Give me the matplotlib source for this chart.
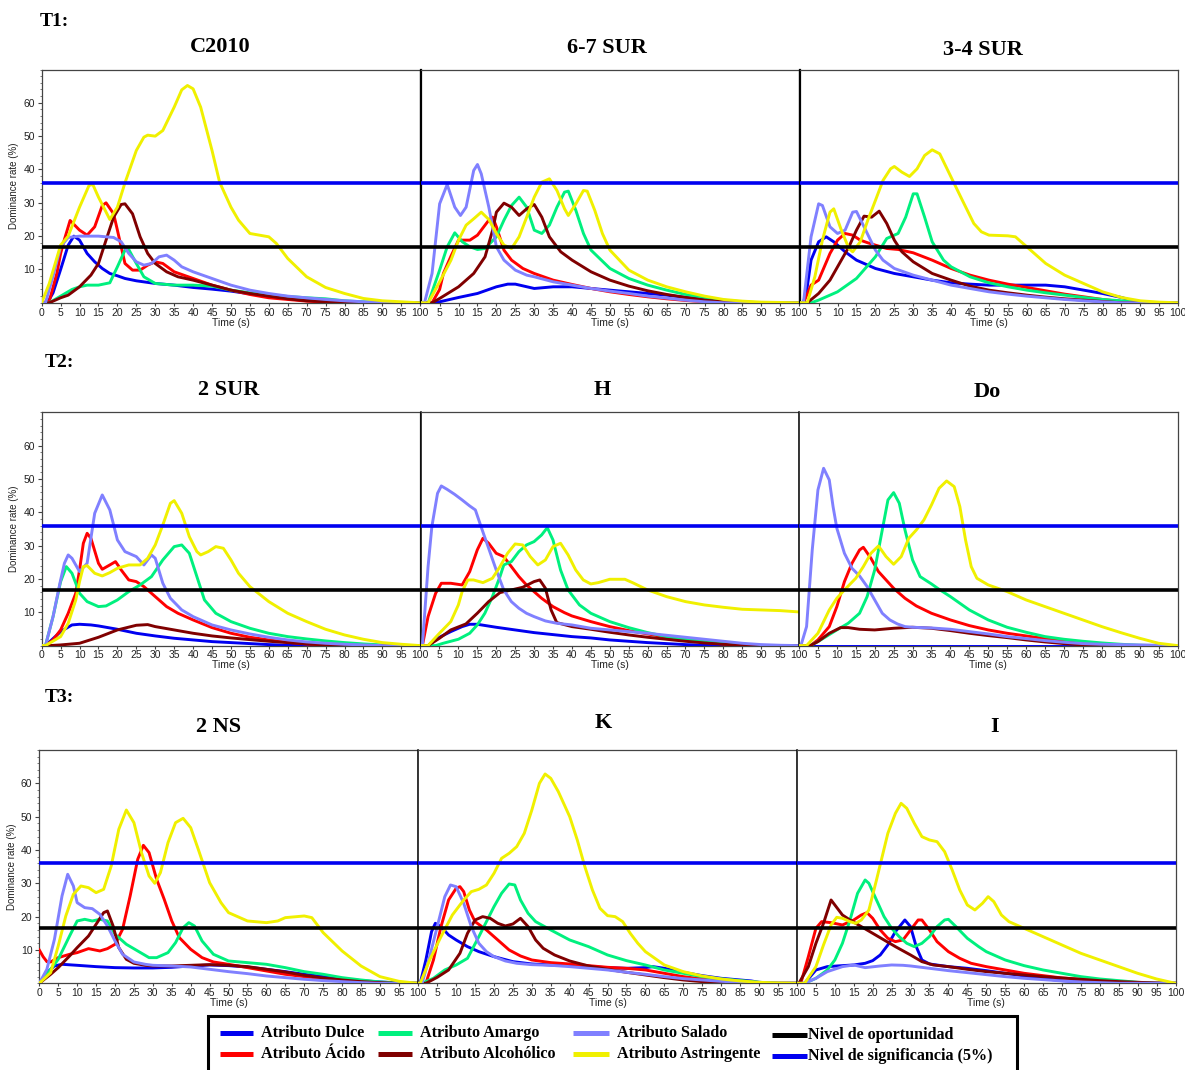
import matplotlib
matplotlib.use("Agg")
import matplotlib.pyplot as plt
from matplotlib.lines import Line2D
from matplotlib.patches import Rectangle
from matplotlib.ticker import MultipleLocator

# ---- data (time s, dominance rate %) ----
ATTRS = ["dulce", "acido", "amargo", "alcoholico", "salado", "astringente"]

C2010 = {
    "dulce": [(0, 0), (1.5, 0), (3, 3), (5, 10), (7, 17.3), (8.5, 20), (10, 18.8), (12, 14.8), (14, 12.3), (16, 10.3), (18, 8.8), (20, 8.1), (22, 7.3), (25, 6.6), (30, 5.8), (35, 5.3), (40, 4.6), (45, 4.1), (50, 3.5), (55, 2.7), (60, 2), (65, 1.4), (70, 0.9), (75, 0.5), (80, 0.2), (85, 0), (100, 0)],
    "acido": [(0, 0), (2, 0.5), (4, 8.8), (5, 14.8), (6, 19), (7.5, 24.7), (10, 21.8), (12, 20.3), (14, 22.8), (16, 29.2), (17, 30), (19, 26.7), (20, 21.8), (22, 11.8), (24, 9.8), (26, 9.8), (28, 11.3), (30, 12.3), (32, 11.8), (35, 9.3), (40, 7.3), (45, 5.3), (50, 3.8), (55, 2.5), (60, 1.5), (65, 1), (70, 0.5), (75, 0.2), (80, 0), (100, 0)],
    "amargo": [(0, 0), (2, 0), (5, 2), (8, 4), (10, 4.8), (12, 5.3), (15, 5.3), (18, 6), (20, 10.8), (22, 15.8), (23, 16), (25, 11.8), (27, 7.8), (30, 5.8), (35, 5.3), (40, 5.3), (45, 5), (50, 3.8), (55, 3), (60, 2.4), (65, 1.9), (70, 1.5), (75, 1.2), (80, 0.6), (85, 0.3), (90, 0.1), (100, 0)],
    "alcoholico": [(0, 0), (2, 0), (5, 1.5), (7, 2.3), (10, 4.8), (13, 8.3), (15, 11.8), (17, 18.8), (19, 25.7), (21, 29.5), (22, 29.7), (24, 26.7), (26, 19.8), (28, 14.8), (30, 11.8), (33, 9.3), (36, 7.8), (40, 6.8), (45, 5.3), (50, 3.8), (55, 2.8), (60, 2), (65, 1.2), (70, 0.6), (75, 0.3), (80, 0), (100, 0)],
    "salado": [(0, 0), (1, 0), (3, 8), (5, 16.8), (7, 19.6), (10, 20), (15, 20), (19, 19.6), (21, 18.3), (23, 14.8), (25, 12.3), (27, 11.3), (29, 11.8), (31, 13.8), (33, 14.3), (35, 12.8), (37, 10.8), (40, 9.3), (45, 7.3), (50, 5.3), (55, 3.8), (60, 2.8), (65, 2), (70, 1.5), (75, 1), (80, 0.6), (85, 0.3), (90, 0.1), (95, 0), (100, 0)],
    "astringente": [(0, 0), (2, 5.8), (5, 17.3), (7, 20), (10, 28.7), (12.5, 35.2), (13.5, 35.5), (15, 31.7), (18, 25), (20, 28.7), (22, 36), (25, 45.7), (27, 49.7), (28, 50.3), (30, 50), (32, 51.7), (35, 58.7), (37, 63.9), (38.5, 65.2), (40, 64.2), (42, 58.7), (45, 45.7), (47, 36.2), (50, 28.7), (52, 24.8), (55, 20.8), (60, 19.8), (62, 17.8), (65, 13.3), (70, 7.8), (75, 4.6), (80, 2.8), (85, 1.3), (90, 0.6), (95, 0.3), (100, 0)],
}

SUR_6_7 = {
    "dulce": [(0, 0), (3, 0), (5, 0.3), (10, 1.6), (15, 2.8), (20, 4.8), (23, 5.6), (25, 5.6), (30, 4.3), (35, 4.8), (40, 4.8), (45, 4.3), (50, 3.8), (55, 3.3), (60, 2.8), (65, 2.3), (70, 1.6), (75, 1), (80, 0.4), (85, 0), (100, 0)],
    "acido": [(0, 0), (3, 0), (5, 4), (6, 8.8), (8, 14), (10, 18.8), (13, 18.8), (15, 20.3), (18, 24.8), (19, 25.7), (20, 22.8), (22, 15.8), (24, 12.8), (27, 10.3), (30, 8.8), (35, 6.8), (40, 5.5), (45, 4.3), (50, 3.3), (55, 2.5), (60, 1.8), (65, 1.2), (70, 0.7), (75, 0.3), (80, 0), (100, 0)],
    "amargo": [(0, 0), (2, 0), (5, 9.8), (7, 16.8), (9, 21), (11, 18.3), (13, 16.8), (15, 16), (17, 16.3), (20, 19.8), (22, 24.8), (24, 29.2), (26, 31.7), (28, 28.7), (30, 21.8), (32, 20.8), (34, 23.3), (36, 28.7), (38, 33.2), (39, 33.5), (41, 27.7), (43, 20.8), (45, 15.8), (50, 10.3), (55, 7.3), (60, 5.3), (65, 3.8), (70, 2.5), (75, 1.6), (80, 0.8), (85, 0.3), (90, 0), (100, 0)],
    "alcoholico": [(0, 0), (3, 0), (5, 1.3), (10, 4.8), (14, 8.8), (17, 13.8), (19, 21.8), (20, 27.2), (22, 29.9), (24, 28.7), (26, 26.2), (28, 28.2), (30, 29.5), (32, 25.7), (34, 19.8), (37, 15.3), (40, 12.8), (45, 9.3), (50, 6.8), (55, 5), (60, 3.6), (65, 2.5), (70, 1.6), (75, 0.8), (80, 0.3), (85, 0), (100, 0)],
    "salado": [(0, 0), (1, 0), (3, 8.8), (5, 29.7), (7, 35.5), (9, 28.7), (10.5, 26.2), (12, 28.7), (14, 39.7), (15, 41.5), (16, 38.7), (18, 28.7), (20, 16.8), (22, 12.8), (25, 9.8), (28, 8.3), (30, 7.8), (35, 6.3), (40, 5.3), (45, 4.3), (50, 3.5), (55, 2.8), (60, 2), (65, 1.4), (70, 0.8), (75, 0.3), (80, 0), (100, 0)],
    "astringente": [(0, 0), (2, 0), (5, 6.3), (8, 12.8), (10, 18.8), (12, 23.3), (14, 25.2), (16, 27.2), (18, 25), (20, 20.8), (22, 17.3), (24, 16.3), (26, 19.8), (28, 25.7), (30, 31.7), (32, 36.2), (34, 37.2), (36, 33.7), (38, 28.2), (39, 26.2), (41, 29.7), (43, 33.7), (44, 33.5), (46, 27.7), (48, 20.8), (50, 15.8), (55, 9.8), (60, 6.8), (65, 4.8), (70, 3.3), (75, 2), (80, 1), (85, 0.5), (90, 0.2), (95, 0.1), (100, 0)],
}

SUR_3_4 = {
    "dulce": [(0, 0), (1, 0), (2, 4.8), (3, 12.8), (5, 18.3), (7, 19.8), (9, 18.3), (12, 15.3), (15, 12.8), (18, 11.3), (20, 10.3), (25, 8.8), (30, 7.8), (35, 6.8), (40, 6), (45, 5.6), (50, 5.3), (65, 5.3), (70, 4.8), (75, 3.8), (80, 2.8), (85, 1.6), (88, 0.6), (90, 0), (100, 0)],
    "acido": [(0, 0), (1, 0), (3, 5.3), (5, 6.8), (8, 14.8), (10, 18.8), (12, 20.8), (14, 20.3), (16, 18.8), (18, 18), (20, 17.3), (23, 16.3), (26, 16), (30, 15), (35, 12.8), (40, 10.3), (45, 8.3), (50, 6.8), (55, 5.6), (60, 4.6), (65, 3.6), (70, 2.6), (75, 1.8), (80, 1), (85, 0.4), (90, 0), (100, 0)],
    "amargo": [(0, 0), (3, 0), (5, 0.8), (10, 3.3), (15, 7.3), (20, 13.8), (23, 19.3), (26, 20.8), (28, 25.7), (30, 32.7), (31, 32.7), (33, 25.7), (35, 18.3), (38, 12.8), (40, 10.8), (45, 7.8), (50, 6), (55, 4.8), (60, 3.8), (65, 3), (70, 2.3), (75, 1.6), (80, 1), (85, 0.6), (90, 0.2), (95, 0), (100, 0)],
    "alcoholico": [(0, 0), (2, 0), (5, 2.8), (8, 6.8), (10, 10.8), (13, 16.8), (15, 21.8), (17, 26), (19, 25.7), (21, 27.5), (23, 23.8), (25, 18.8), (27, 15.3), (30, 12.3), (35, 8.8), (40, 6.8), (45, 5), (50, 3.8), (55, 3), (60, 2.3), (65, 1.7), (70, 1.2), (75, 0.8), (80, 0.4), (85, 0), (100, 0)],
    "salado": [(0, 0), (1, 0), (3, 19.8), (5, 29.7), (6, 29.2), (8, 22.8), (10, 20.8), (12, 21.8), (14, 27.2), (15, 27.4), (17, 22.8), (20, 15.8), (22, 12.8), (25, 10.3), (30, 8.3), (35, 6.8), (40, 5.3), (45, 4.3), (50, 3.3), (55, 2.6), (60, 2), (65, 1.5), (70, 1), (75, 0.6), (80, 0.3), (85, 0), (100, 0)],
    "astringente": [(0, 0), (2, 0), (4, 7.8), (6, 18.8), (8, 27.2), (9, 28.2), (11, 21.8), (13, 16.3), (14, 15.3), (16, 18.3), (18, 24.8), (20, 30.7), (22, 36.7), (24, 40.2), (25, 40.9), (27, 39.2), (29, 37.9), (31, 40.2), (33, 44.2), (35, 45.9), (37, 44.7), (40, 37.7), (43, 30.7), (46, 23.8), (48, 21.3), (50, 20.3), (55, 20.1), (57, 19.8), (60, 16.8), (65, 11.8), (70, 8.3), (75, 5.8), (80, 3.3), (85, 1.6), (90, 0.6), (95, 0.2), (100, 0)],
}

SUR_2 = {
    "dulce": [(0, 0), (1, 0), (5, 4.2), (8, 6.2), (10, 6.4), (13, 6.2), (15, 5.9), (20, 4.9), (25, 3.7), (30, 2.9), (35, 2.2), (40, 1.7), (45, 1.2), (50, 0.9), (55, 0.6), (60, 0.3), (65, 0.1), (70, 0), (100, 0)],
    "acido": [(0, 0), (1, 0), (3, 1.7), (5, 4.7), (7, 9.7), (9, 15.7), (10, 22.7), (11, 30.7), (12, 33.7), (13, 32.2), (15, 24.7), (16, 22.9), (18, 24.2), (19.5, 25.2), (21, 22.7), (23, 19.7), (25, 19.2), (27, 17.7), (30, 14.7), (33, 11.7), (36, 9.7), (40, 7.7), (45, 5.4), (50, 3.7), (55, 2.5), (60, 1.7), (65, 1), (70, 0.5), (75, 0.2), (80, 0), (100, 0)],
    "amargo": [(0, 0), (1, 0), (3, 8.7), (5, 19.2), (6.5, 23.7), (8, 21.7), (10, 15.7), (12, 13.2), (15, 11.7), (17, 11.9), (20, 13.7), (23, 16.2), (26, 18.2), (29, 20.7), (32, 25.7), (35, 29.7), (37, 30.2), (39, 27.7), (41, 20.7), (43, 13.7), (46, 9.7), (50, 7.2), (55, 5.2), (60, 3.7), (65, 2.7), (70, 2), (75, 1.4), (80, 0.9), (85, 0.5), (90, 0.2), (95, 0), (100, 0)],
    "alcoholico": [(0, 0), (2, 0), (5, 0.2), (10, 0.7), (15, 2.5), (20, 4.7), (25, 6.1), (28, 6.3), (30, 5.7), (35, 4.7), (40, 3.7), (45, 2.9), (50, 2.3), (55, 1.8), (60, 1.3), (65, 0.9), (70, 0.5), (75, 0.2), (80, 0), (100, 0)],
    "salado": [(0, 0), (1, 0), (3, 8.7), (5, 19.7), (6, 24.7), (7, 27.2), (8, 26.2), (10, 22.2), (12, 24.7), (14, 39.7), (16, 45.2), (18, 40.7), (20, 31.7), (22, 28.2), (25, 26.7), (27, 24.2), (29, 27.2), (30, 26.2), (32, 18.7), (34, 14.2), (37, 10.7), (40, 8.7), (45, 6.2), (50, 4.7), (55, 3.5), (60, 2.5), (65, 1.7), (70, 1.1), (75, 0.7), (80, 0.4), (85, 0.2), (90, 0), (100, 0)],
    "astringente": [(0, 0), (1, 0), (5, 2.7), (7, 6.7), (9, 13.7), (10, 19.2), (11, 23.7), (12, 24), (14, 21.7), (16, 20.9), (18, 21.9), (20, 23.2), (23, 24.2), (26, 24.2), (28, 26.2), (30, 30.2), (32, 36.2), (34, 42.7), (35, 43.5), (37, 39.7), (39, 32.7), (41, 28.2), (42, 27.2), (44, 28.2), (46, 29.7), (48, 29.2), (50, 25.7), (52, 21.7), (55, 17.7), (60, 13.2), (65, 9.7), (70, 7.2), (75, 4.9), (80, 3.2), (85, 1.9), (90, 0.9), (95, 0.4), (100, 0)],
}

H = {
    "dulce": [(0, 0), (2, 0), (5, 2.5), (8, 4.2), (11, 5.7), (13, 6.4), (15, 6.4), (20, 5.5), (25, 4.7), (30, 3.9), (35, 3.3), (40, 2.7), (45, 2.3), (50, 1.7), (55, 1.3), (60, 0.9), (65, 0.6), (70, 0.3), (75, 0.1), (80, 0), (100, 0)],
    "acido": [(0, 0), (0.5, 0), (2, 8.7), (4, 15.7), (5.5, 18.7), (8, 18.7), (11, 18.2), (13, 22.2), (15, 28.7), (16.5, 32.2), (18, 30.7), (20, 27.7), (22, 26.7), (24, 23.7), (26, 20.7), (28, 18.2), (30, 16.2), (32, 14.2), (35, 11.7), (38, 9.9), (40, 8.9), (45, 7.2), (50, 5.7), (55, 4.5), (60, 3.5), (65, 2.5), (70, 1.7), (75, 1), (80, 0.5), (85, 0.2), (90, 0), (100, 0)],
    "amargo": [(0, 0), (4, 0), (6, 0.7), (10, 1.9), (13, 3.7), (15, 6.2), (17, 9.7), (19, 14.7), (21, 20.7), (22, 24.2), (24, 25.2), (26, 28.2), (28, 30.2), (30, 31.2), (32, 33.2), (33.5, 35.4), (35, 31.7), (37, 22.7), (39, 16.7), (42, 12.2), (45, 9.7), (50, 7.2), (55, 5.4), (60, 3.9), (65, 2.7), (70, 1.9), (75, 1.2), (80, 0.7), (85, 0.3), (90, 0), (100, 0)],
    "alcoholico": [(0, 0), (2, 0), (5, 2.2), (8, 4.7), (12, 6.5), (15, 9.7), (18, 13.2), (21, 15.9), (24, 16.7), (27, 17.5), (30, 19.2), (31.5, 19.7), (33, 17.2), (34.5, 10.7), (36, 6.9), (40, 5.7), (45, 4.9), (50, 4), (55, 3.2), (60, 2.5), (65, 1.9), (70, 1.3), (75, 0.8), (80, 0.4), (85, 0.1), (90, 0), (100, 0)],
    "salado": [(0, 0), (0.5, 0), (2, 23.7), (3, 35.7), (4.5, 45.7), (5.5, 47.9), (7, 46.9), (9, 45.4), (11, 43.7), (13, 41.9), (14.5, 40.7), (16, 35.7), (18, 29.2), (20, 22.7), (22, 16.7), (24, 13.2), (26, 11.2), (28, 9.7), (30, 8.7), (33, 7.4), (36, 6.7), (40, 6.2), (45, 5.2), (50, 4.7), (55, 4.2), (60, 3.7), (65, 3.1), (70, 2.5), (75, 1.9), (80, 1.3), (85, 0.7), (90, 0.3), (95, 0.1), (100, 0)],
    "astringente": [(0, 0), (2, 0), (5, 3.7), (8, 7.2), (10, 12.2), (11, 16.2), (12.5, 19.7), (14, 19.7), (16.5, 18.9), (19, 20.2), (21, 23.7), (23, 27.7), (25, 30.5), (27, 30.2), (29, 26.7), (31, 24.2), (33, 25.7), (35, 29.7), (37, 30.7), (39, 27.2), (41, 22.7), (43, 19.7), (45, 18.5), (47, 18.9), (50, 19.9), (54, 19.9), (56, 18.9), (60, 16.7), (65, 14.7), (70, 13.2), (75, 12.2), (80, 11.5), (85, 10.9), (90, 10.7), (95, 10.5), (100, 10.1)],
}

DO = {
    "dulce": [(0, 0), (100, 0)],
    "acido": [(0, 0), (3, 0), (5, 1.7), (8, 5.7), (10, 11.7), (12, 19.2), (14, 24.7), (16, 28.7), (17, 29.5), (19, 26.2), (21, 22.2), (23, 19.7), (25, 17.2), (28, 14.2), (31, 11.9), (35, 9.7), (40, 7.7), (45, 6), (50, 4.7), (55, 3.7), (60, 2.9), (65, 2.1), (70, 1.5), (75, 0.7), (80, 0.3), (85, 0), (100, 0)],
    "amargo": [(0, 0), (3, 0), (5, 1.2), (10, 4.7), (13, 6.7), (16, 9.7), (18, 14.7), (20, 22.7), (22, 34.7), (23.5, 43.7), (25, 45.9), (26.5, 42.7), (28, 34.7), (30, 25.7), (32, 20.7), (35, 18.5), (37, 16.9), (40, 14.7), (45, 10.7), (50, 7.7), (55, 5.5), (60, 4), (65, 2.7), (70, 1.9), (75, 1.3), (80, 0.8), (85, 0.4), (90, 0.1), (95, 0), (100, 0)],
    "alcoholico": [(0, 0), (3, 0), (5, 1.2), (8, 3.7), (11, 5.4), (13, 5.4), (16, 4.9), (20, 4.7), (25, 5.2), (30, 5.5), (35, 5.2), (40, 4.5), (45, 3.7), (50, 3), (55, 2.4), (60, 1.7), (65, 1.1), (70, 0.6), (75, 0.2), (80, 0), (100, 0)],
    "salado": [(0, 0), (0.5, 0), (2, 5.7), (3.5, 28.7), (5, 46.7), (6.5, 53.2), (8, 49.7), (9, 41.7), (10, 35.2), (12, 27.7), (14, 23.2), (16, 20.9), (18, 17.7), (20, 13.7), (22, 9.7), (24, 7.7), (26, 6.5), (28, 5.7), (30, 5.5), (35, 5.3), (40, 4.9), (45, 4.2), (50, 3.5), (55, 2.7), (60, 2.1), (65, 1.5), (70, 1), (75, 0.6), (80, 0.4), (85, 0.3), (90, 0.2), (95, 0.1), (100, 0)],
    "astringente": [(0, 0), (2, 0), (5, 3.7), (8, 10.7), (10, 14.2), (12, 16.7), (15, 20.2), (17, 23.7), (19, 27.7), (21, 29.9), (23, 26.7), (25, 24.4), (27, 26.7), (29, 32.2), (31, 34.7), (33, 37.7), (35, 42.2), (37, 47.2), (39, 49.4), (41, 47.7), (42.5, 41.7), (44, 31.7), (45.5, 23.7), (47, 20.2), (50, 18.2), (55, 16.2), (60, 13.7), (65, 11.7), (70, 9.7), (75, 7.7), (80, 5.7), (85, 3.9), (90, 2.2), (95, 0.7), (100, 0)],
}

NS_2 = {
    "dulce": [(0, 0), (2, 3.2), (4, 5.2), (6, 5.7), (10, 5.4), (15, 5), (20, 4.7), (25, 4.6), (30, 4.6), (35, 4.8), (40, 5.2), (45, 5.5), (50, 5.3), (55, 4.9), (60, 4.2), (65, 3.5), (70, 2.7), (75, 2), (80, 1.4), (85, 0.8), (90, 0.4), (95, 0.1), (100, 0)],
    "acido": [(0, 10), (1, 8), (2, 6.5), (3, 6.4), (5, 7.7), (8, 8.7), (10, 9.2), (13, 10.4), (16, 9.7), (18, 10.4), (20, 11.7), (22, 16.2), (24, 26.2), (26, 37.2), (27.5, 41.4), (29, 39.2), (31, 31.2), (33, 25.2), (35, 18.7), (37, 13.7), (40, 10.2), (43, 7.7), (46, 6.4), (50, 5.7), (55, 4.7), (60, 3.7), (65, 2.7), (70, 2), (75, 1.4), (80, 0.9), (85, 0.5), (90, 0.2), (95, 0), (100, 0)],
    "amargo": [(0, 0), (3, 4.2), (5, 7.2), (8, 14.2), (10, 18.7), (12, 19.2), (14, 18.7), (16, 19.2), (18, 18.7), (20, 14.7), (23, 11.7), (26, 9.7), (29, 7.7), (31, 7.7), (34, 9.2), (36, 12.2), (38, 16.7), (39.5, 18.2), (41, 17.2), (43, 12.7), (46, 8.7), (50, 6.7), (55, 6.2), (60, 5.7), (65, 4.7), (70, 3.5), (75, 2.7), (80, 1.7), (85, 1), (90, 0.4), (95, 0.1), (100, 0)],
    "alcoholico": [(0, 0), (3, 2.7), (5, 4.7), (8, 8.2), (10, 10.7), (13, 14.2), (15, 17.7), (17, 21.2), (18, 21.7), (19.5, 17.2), (21, 10.7), (23, 7.2), (25, 6), (28, 5.4), (30, 5.2), (35, 5.2), (40, 5.4), (45, 5.6), (50, 5.4), (55, 5), (60, 4.2), (65, 3.4), (70, 2.4), (75, 1.6), (80, 1), (85, 0.5), (90, 0.2), (95, 0), (100, 0)],
    "salado": [(0, 0), (2, 4.2), (4, 13.2), (6, 26.2), (7.5, 32.7), (9, 29.2), (10, 24.2), (12, 22.7), (14, 22.4), (16, 20.7), (18, 17.2), (20, 12.7), (22, 8.7), (25, 6.4), (28, 5.7), (30, 5.4), (35, 5.2), (40, 4.9), (45, 4.2), (50, 3.5), (55, 2.9), (60, 2.2), (65, 1.7), (70, 1.2), (75, 0.8), (80, 0.5), (85, 0.2), (90, 0), (100, 0)],
    "astringente": [(0, 0), (3, 3.2), (5, 11.2), (7, 20.2), (9, 26.7), (11, 29.2), (13, 28.7), (15, 27.2), (17, 28.2), (19, 35.2), (21, 46.2), (23, 52), (25, 48.2), (27, 39.2), (29, 32.2), (30.5, 30), (32, 33.2), (34, 42.2), (36, 48.2), (38, 49.5), (40, 46.7), (42, 40.2), (45, 30.2), (48, 24.2), (50, 21.2), (55, 18.7), (60, 18.2), (63, 18.7), (65, 19.7), (70, 20.2), (72, 19.7), (75, 15.2), (80, 9.7), (85, 5.2), (90, 2), (95, 0.6), (100, 0)],
}

K = {
    "dulce": [(0, 0), (0.5, 0), (2, 7), (3.5, 15.5), (4.5, 18), (6, 17), (8, 14.5), (10, 13), (13, 11), (16, 9.5), (20, 8), (25, 6.5), (30, 5.8), (35, 5.5), (40, 5.3), (45, 5), (50, 4.7), (55, 4.5), (60, 4.7), (62, 5), (65, 4.5), (70, 3.3), (75, 2.3), (80, 1.5), (85, 1), (88, 0.7), (90, 0.3), (95, 0), (100, 0)],
    "acido": [(0, 0), (2, 0), (4, 7), (6, 17), (8, 25), (10, 28.5), (11, 29), (12, 27.5), (13.5, 22), (15, 18.5), (18, 16), (21, 13), (24, 10), (27, 8.2), (30, 7), (35, 6.2), (40, 5.8), (45, 5.3), (50, 4.8), (55, 4.5), (60, 4), (65, 3), (70, 2), (75, 1.3), (80, 0.8), (85, 0.4), (90, 0.1), (95, 0), (100, 0)],
    "amargo": [(0, 0), (1, 0), (4, 1.5), (7, 4), (10, 5.5), (13, 7.5), (16, 14), (18, 18.5), (20, 23), (22, 27), (24, 29.8), (25.5, 29.5), (27, 25), (29, 21), (31, 18.5), (35, 16), (40, 13), (45, 11), (50, 8.5), (55, 6.8), (60, 5.5), (65, 4), (70, 3), (75, 2), (80, 1.3), (85, 0.8), (90, 0.3), (95, 0), (100, 0)],
    "alcoholico": [(0, 0), (2, 0), (5, 1.8), (8, 4), (11, 9), (13, 15), (15, 19), (17, 20), (19, 19.5), (21, 18), (23, 17.2), (25, 17.8), (27, 19.5), (29, 17), (31, 13), (33, 10.5), (36, 8.5), (40, 6.7), (45, 5.2), (50, 4.2), (55, 3.3), (60, 2.5), (65, 1.7), (70, 1), (75, 0.5), (80, 0.2), (85, 0), (100, 0)],
    "salado": [(0, 0), (1, 0), (3, 8), (5, 17), (7, 26), (8.5, 29.5), (10, 29), (12, 24), (14, 17), (16, 12), (18, 9.5), (20, 8), (23, 6.7), (26, 6), (30, 5.6), (35, 5.4), (40, 5), (45, 4.5), (50, 4), (55, 3.3), (60, 2.7), (65, 2), (70, 1.4), (75, 1), (80, 0.6), (85, 0.3), (90, 0.1), (95, 0), (100, 0)],
    "astringente": [(0, 0), (0.5, 0), (3, 7), (6, 14), (9, 20.5), (12, 25), (14, 27.5), (16, 28.2), (18, 29.5), (20, 33), (22, 37.5), (24, 39), (26, 41), (28, 45), (30, 52), (32, 60), (33.5, 62.8), (35, 61.5), (37, 57.5), (40, 50), (42, 43), (44, 35), (46, 28), (48, 22.5), (50, 20.3), (52, 20), (54, 18.5), (56, 15), (58, 12), (60, 9.5), (65, 5.5), (70, 3.5), (75, 2.2), (80, 1.3), (85, 0.7), (90, 0.3), (95, 0.1), (100, 0)],
}

I = {
    "dulce": [(0, 0), (2, 0), (5, 4), (8, 5), (12, 5.3), (15, 5.5), (18, 6), (20, 6.8), (22, 8.5), (24, 11.5), (26, 15.5), (28.5, 19), (30, 17), (31.5, 11), (33, 7), (35, 5.8), (40, 5), (45, 4.5), (50, 3.8), (55, 3), (60, 2.2), (65, 1.4), (70, 0.8), (75, 0.4), (80, 0.1), (85, 0), (100, 0)],
    "acido": [(0, 0), (1, 0), (3, 8), (5, 16.5), (6.5, 18.5), (9, 18.2), (12, 17.5), (15, 19), (17, 20.5), (18.5, 21.2), (20, 19.5), (22, 16), (24, 13.5), (26, 12.5), (28, 13), (30, 16), (32, 19), (33, 19), (35, 16), (37, 12.5), (40, 9.5), (43, 7.5), (46, 6), (50, 5), (55, 4), (60, 3), (65, 2.3), (70, 1.6), (75, 1.2), (80, 0.8), (85, 0.5), (90, 0.2), (95, 0), (100, 0)],
    "amargo": [(0, 0), (2, 0), (5, 1.5), (8, 4), (10, 7), (12, 12), (14, 19), (16, 27), (18, 31), (19, 30), (21, 25), (23, 20), (25, 16.5), (27, 14), (29, 12), (31, 11), (33, 12), (35, 14), (37, 17), (39, 19), (40, 19.2), (42, 17), (45, 13.5), (48, 11), (50, 9.5), (55, 7), (60, 5.3), (65, 4), (70, 3), (75, 2), (80, 1.3), (85, 0.8), (90, 0.3), (95, 0), (100, 0)],
    "alcoholico": [(0, 0), (0.5, 0), (3, 5), (5, 12), (7, 18), (9, 25), (10, 23.5), (12, 20.5), (14, 19), (17, 17), (20, 15), (23, 13), (26, 11), (30, 8.5), (33, 6.5), (36, 5.5), (40, 5), (45, 4.2), (50, 3.5), (55, 3), (60, 2.5), (65, 2), (70, 1.6), (75, 1.2), (80, 0.8), (85, 0.5), (90, 0.3), (95, 0.1), (100, 0)],
    "salado": [(0, 0), (2, 0), (5, 1.5), (8, 3.5), (12, 5), (15, 5.5), (18, 4.7), (22, 5.2), (25, 5.5), (28, 5.4), (30, 5.2), (35, 4.5), (40, 3.8), (45, 3.2), (50, 2.6), (55, 2), (60, 1.5), (65, 1.1), (70, 0.7), (75, 0.4), (80, 0.2), (85, 0), (100, 0)],
    "astringente": [(0, 0), (2, 0), (5, 5), (7, 11.5), (9, 17.5), (10.5, 19.8), (12, 19.5), (14, 18.5), (15.5, 18), (17, 19), (19, 22), (21, 31), (22.5, 38), (24, 45), (26, 51), (27.5, 54), (29, 52.5), (31, 48), (33, 44), (35, 43), (37, 42.5), (39, 39.5), (41, 34), (43, 28), (45, 23.5), (47, 22), (49, 24), (50.5, 26), (52, 24.5), (54, 20.5), (56, 18.5), (60, 16.5), (65, 14), (70, 11.5), (75, 9), (80, 7), (85, 5), (90, 3), (95, 1.3), (100, 0)],
}

OPPORTUNITY_LEVEL = 16.7
SIGNIFICANCE_LEVEL = 36.0

ROW_LABELS = ["T1:", "T2:", "T3:"]
PANEL_TITLES = [["C2010", "6-7 SUR", "3-4 SUR"], ["2 SUR", "H", "Do"], ["2 NS", "K", "I"]]
PANEL_DATA = [[C2010, SUR_6_7, SUR_3_4], [SUR_2, H, DO], [NS_2, K, I]]

COLORS = {
    "dulce": "#0000F0", "acido": "#FF0000", "amargo": "#00F07E",
    "alcoholico": "#800000", "salado": "#8080FF", "astringente": "#F0F000",
}
LABELS = {
    "dulce": "Atributo Dulce", "acido": "Atributo Ácido", "amargo": "Atributo Amargo",
    "alcoholico": "Atributo Alcohólico", "salado": "Atributo Salado", "astringente": "Atributo Astringente",
}
LEVEL_LABELS = ["Nivel de oportunidad", "Nivel de significancia (5%)"]
LEVEL_COLORS = ["black", "#0000F0"]

# ---- layout (pixels of a 1185x1070 canvas) ----
FW, FH = 1185, 1070
ROW_TOP = [69.5, 412.3, 750]
ROW_LEFT = [[41.7, 420.7, 799.7], [41.7, 420.5, 799], [39.3, 418.3, 797]]
AX_W, AX_H = 378.5, 233.3
ROW_LABEL_POS = [(40, 22), (45, 362), (45, 697)]
TITLE_POS = [[(220, 47), (607, 48), (983, 50)],
             [(229, 390), (602, 390), (987, 392)],
             [(219, 727), (603, 723), (995, 727)]]

SERIF = "Liberation Serif"
SANS = "Liberation Sans"


def px(x, y):
    return x / FW, 1 - y / FH


fig = plt.figure(figsize=(FW / 100, FH / 100), dpi=100)

for r in range(3):
    fig.text(*px(*ROW_LABEL_POS[r]), ROW_LABELS[r],
             family=SERIF, weight="bold", fontsize=14, ha="left", va="center")
    for c in range(3):
        left = ROW_LEFT[r][c]
        ax = fig.add_axes([left / FW, 1 - (ROW_TOP[r] + AX_H) / FH, AX_W / FW, AX_H / FH])
        data = PANEL_DATA[r][c]
        for key in ATTRS:
            t = [p[0] for p in data[key]]
            v = [p[1] for p in data[key]]
            ax.plot(t, v, color=COLORS[key], lw=2.1, solid_joinstyle="round", zorder=3)
        ax.axhline(SIGNIFICANCE_LEVEL, color="#0000F0", lw=2.6, zorder=4)
        ax.axhline(OPPORTUNITY_LEVEL, color="black", lw=2.6, zorder=4)
        ax.set_xlim(0, 100)
        ax.set_ylim(0, 70)
        ticks = list(range(0, 101, 5)) if c == 0 else list(range(5, 101, 5))
        ax.set_xticks(ticks)
        ax.set_xticklabels([str(x) for x in ticks])
        ax.tick_params(axis="x", length=2, pad=1.5, labelsize=7.5, labelcolor="#222222", colors="#444444")
        for lab in ax.get_xticklabels():
            lab.set_family(SANS)
        ax.set_xlabel("Time (s)", fontsize=7.5, family=SANS, labelpad=0, color="#222222")
        if c == 0:
            ax.set_yticks(range(10, 61, 10))
            ax.yaxis.set_minor_locator(MultipleLocator(2))
            ax.tick_params(axis="y", which="major", length=3, pad=2, labelsize=7.5, labelcolor="#222222", colors="#444444")
            ax.tick_params(axis="y", which="minor", length=1.5, colors="#666666")
            for lab in ax.get_yticklabels():
                lab.set_family(SANS)
            ax.set_ylabel("Dominance rate (%)", fontsize=7, family=SANS, labelpad=3, color="#222222")
        else:
            ax.set_yticks([])
        for side in ["top", "right", "bottom"]:
            ax.spines[side].set_color("#444444")
            ax.spines[side].set_linewidth(0.9)
        if c == 0:
            ax.spines["left"].set_color("#444444")
            ax.spines["left"].set_linewidth(0.9)
        else:
            ax.spines["left"].set_color("black")
            ax.spines["left"].set_linewidth(1.6 if r == 0 else 1.1)
        fig.text(*px(*TITLE_POS[r][c]), PANEL_TITLES[r][c], family=SERIF, weight="bold",
                 fontsize=16, ha="center", va="center")

# ---- legend box, laid out by hand like the original ----
box_x0, box_y0, box_x1, box_y1 = 208, 1016, 1017, 1080
fig.patches.append(Rectangle(px(box_x0, box_y1), (box_x1 - box_x0) / FW, (box_y1 - box_y0) / FH,
                             transform=fig.transFigure, facecolor="white", edgecolor="black",
                             linewidth=2.2, zorder=5))
LEG_LINE_X = [(220, 253), (378, 412), (573, 609), (772, 807)]
LEG_TEXT_X = [261, 420, 617, 808]
LEG_ROW_Y = [[1033, 1054], [1033, 1054], [1033, 1054], [1035, 1056]]
entries = [[(COLORS[k], LABELS[k]) for k in ATTRS[i:i + 2]] for i in (0, 2, 4)]
entries.append(list(zip(LEVEL_COLORS, LEVEL_LABELS)))
for col, items in enumerate(entries):
    for row, (color, label) in enumerate(items):
        y = LEG_ROW_Y[col][row]
        x0, x1 = LEG_LINE_X[col]
        fig.lines.append(Line2D([x0 / FW, x1 / FW], [1 - y / FH, 1 - y / FH], color=color,
                                lw=3.6, solid_capstyle="butt", transform=fig.transFigure, zorder=6))
        fig.text(*px(LEG_TEXT_X[col], y), label, family=SERIF, weight="bold",
                 fontsize=11.6, ha="left", va="center", zorder=6)

fig.savefig("out.png", dpi=100)
